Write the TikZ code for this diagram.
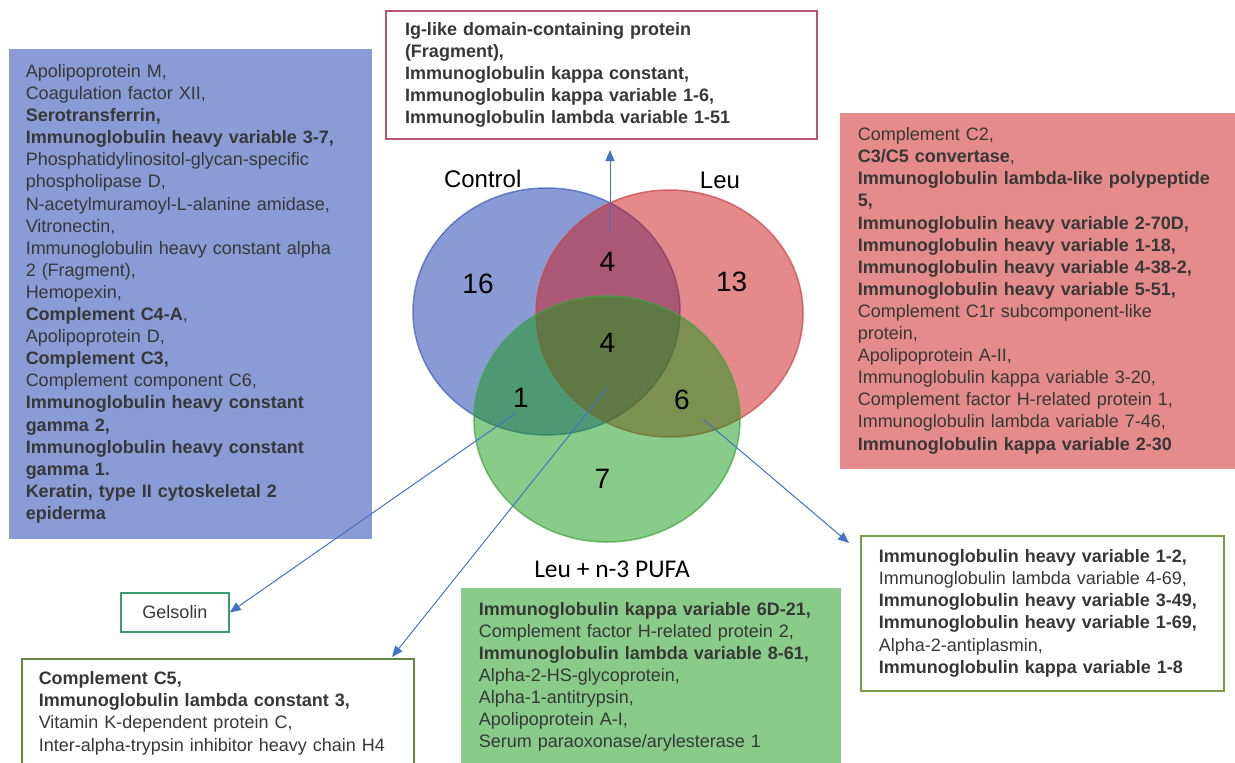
\documentclass[tikz,border=0pt]{standalone}
\usepackage{fontspec}
\setmainfont{Liberation Sans}[WordSpace={2.0}]
\newfontfamily\titlefont{Liberation Sans}
\newfontfamily\calfont{Carlito}
\usetikzlibrary{arrows.meta}
\newcommand\mline[1]{\mbox{#1}}
\definecolor{vblue}{RGB}{21,55,173}
\definecolor{vred}{RGB}{203,23,23}
\definecolor{vgreen}{RGB}{21,153,21}
\definecolor{sblue}{RGB}{60,95,190}
\definecolor{sred}{RGB}{205,65,65}
\definecolor{sgreen}{RGB}{60,165,60}
\definecolor{boxblue}{RGB}{138,155,214}
\definecolor{boxred}{RGB}{229,139,139}
\definecolor{boxgreen}{RGB}{137,204,137}
\definecolor{topborder}{RGB}{183,84,115}
\definecolor{gelborder}{RGB}{60,155,110}
\definecolor{c5border}{RGB}{100,135,70}
\definecolor{rtborder}{RGB}{120,155,70}
\definecolor{arrblue}{RGB}{68,114,196}
\definecolor{txt}{RGB}{55,55,55}
\tikzset{
  listbox/.style={anchor=north west, align=left, inner xsep=17pt, inner ysep=0pt,
    text=txt, font=\fontsize{18}{22.1}\selectfont, line width=1.5pt},
  arr/.style={draw=arrblue, line width=1pt, -{Triangle[length=11pt,width=9pt]}},
  num/.style={font=\titlefont\fontsize{28}{28}\selectfont, inner sep=0pt, text=black},
  ttl/.style={font=\titlefont\fontsize{24}{24}\selectfont, inner sep=0pt, text=black},
  venn/.style={fill opacity=0.5, draw opacity=0.7, line width=1.5pt}
}
\begin{document}
\begin{tikzpicture}[x=1pt,y=-1pt]
\clip (0,0) rectangle (1235,763);
\fill[white] (0,0) rectangle (1235,763);

% Venn circles
\path[venn, fill=vblue, draw=sblue] (546.5,311.5) ellipse [x radius=133.5, y radius=123.5];
\path[venn, fill=vred, draw=sred] (669.5,313.5) ellipse [x radius=133.5, y radius=123.5];
\path[venn, fill=vgreen, draw=sgreen] (607,419) ellipse [x radius=133, y radius=123];

% titles and numbers
\node[ttl] (tc) at (482.7,179) {Control};
\node[ttl] (tl) at (720,180) {Leu};
\node[inner sep=0pt, font=\calfont\fontsize{25.5}{25.5}\selectfont] (tp) at (612,569) {Leu + n-3 PUFA};
\node[num] (n16) at (478,284) {16};
\node[num] (n4a) at (607.5,262) {4};
\node[num] (n13) at (731.7,282) {13};
\node[num] (n4b) at (607.5,343) {4};
\node[num] (n1) at (521,398) {1};
\node[num] (n6) at (682,400) {6};
\node[num] (n7) at (602.5,478.5) {7};

% boxes
\node[listbox, fill=boxblue, text width=329pt, minimum height=490pt] (bluebox) at (8,48) {%
\mline{Apolipoprotein M,}\\
\mline{Coagulation factor XII,}\\
\mline{\textbf{Serotransferrin,}}\\
\mline{\textbf{Immunoglobulin heavy variable 3-7,}}\\
\mline{Phosphatidylinositol-glycan-specific}\\
\mline{phospholipase D,}\\
\mline{N-acetylmuramoyl-L-alanine amidase,}\\
\mline{Vitronectin,}\\
\mline{Immunoglobulin heavy constant alpha}\\
\mline{2 (Fragment),}\\
\mline{Hemopexin,}\\
\mline{\textbf{Complement C4-A},}\\
\mline{Apolipoprotein D,}\\
\mline{\textbf{Complement C3,}}\\
\mline{Complement component C6,}\\
\mline{\textbf{Immunoglobulin heavy constant}}\\
\mline{\textbf{gamma 2,}}\\
\mline{\textbf{Immunoglobulin heavy constant}}\\
\mline{\textbf{gamma 1.}}\\
\mline{\textbf{Keratin, type II cytoskeletal 2}}\\
\mline{\textbf{epiderma}}};

\node[listbox, draw=topborder, line width=2pt, fill=white, inner xsep=19pt, text width=393pt, minimum height=128pt] (topbox) at (385,10) {%
\mline{\textbf{Ig-like domain-containing protein}}\\
\mline{\textbf{(Fragment),}}\\
\mline{\textbf{Immunoglobulin kappa constant,}}\\
\mline{\textbf{Immunoglobulin kappa variable 1-6,}}\\
\mline{\textbf{Immunoglobulin lambda variable 1-51}}};

\node[listbox, fill=boxred, inner xsep=18pt, text width=372pt, minimum height=356pt] (redbox) at (839,112) {%
\mline{Complement C2,}\\
\mline{\textbf{C3/C5 convertase},}\\
\mline{\textbf{Immunoglobulin lambda-like polypeptide}}\\
\mline{\textbf{5,}}\\
\mline{\textbf{Immunoglobulin heavy variable 2-70D,}}\\
\mline{\textbf{Immunoglobulin heavy variable 1-18,}}\\
\mline{\textbf{Immunoglobulin heavy variable 4-38-2,}}\\
\mline{\textbf{Immunoglobulin heavy variable 5-51,}}\\
\mline{Complement C1r subcomponent-like}\\
\mline{protein,}\\
\mline{Apolipoprotein A-II,}\\
\mline{Immunoglobulin kappa variable 3-20,}\\
\mline{Complement factor H-related protein 1,}\\
\mline{Immunoglobulin lambda variable 7-46,}\\
\mline{\textbf{Immunoglobulin kappa variable 2-30}}};

\node[listbox, fill=boxgreen, inner xsep=18pt, text width=344pt, minimum height=178pt] (greenbox) at (460,587) {%
\mline{\textbf{Immunoglobulin kappa variable 6D-21,}}\\
\mline{Complement factor H-related protein 2,}\\
\mline{\textbf{Immunoglobulin lambda variable 8-61,}}\\
\mline{Alpha-2-HS-glycoprotein,}\\
\mline{Alpha-1-antitrypsin,}\\
\mline{Apolipoprotein A-I,}\\
\mline{Serum paraoxonase/arylesterase 1}};

\node[listbox, draw=rtborder, fill=white, inner xsep=18pt, text width=327pt, minimum height=155pt] (rtbox) at (860,535) {%
\mline{\textbf{Immunoglobulin heavy variable 1-2,}}\\
\mline{Immunoglobulin lambda variable 4-69,}\\
\mline{\textbf{Immunoglobulin heavy variable 3-49,}}\\
\mline{\textbf{Immunoglobulin heavy variable 1-69,}}\\
\mline{Alpha-2-antiplasmin,}\\
\mline{\textbf{Immunoglobulin kappa variable 1-8}}};

\node[listbox, draw=c5border, fill=white, text width=358pt, minimum height=109pt] (c5box) at (21,658) {%
\mline{\textbf{Complement C5,}}\\
\mline{\textbf{Immunoglobulin lambda constant 3,}}\\
\mline{Vitamin K-dependent protein C,}\\
\mline{Inter-alpha-trypsin inhibitor heavy chain H4}};

\node[draw=gelborder, line width=1.5pt, text=txt, font=\fontsize{18}{22}\selectfont,
  minimum width=108pt, minimum height=39pt, inner sep=0pt] (gels) at (175,612.5) {Gelsolin};

% connector anchors
\coordinate (s4) at (610,232);
\coordinate (t4) at (610,150);
\coordinate (s1) at (516,413);
\coordinate (sc) at (608,387);
\coordinate (tc5) at (392,657);
\coordinate (s6) at (703,419);
\coordinate (t6) at (849,543);

\draw[arr] (s4) -- (t4);
\draw[arr] (s1) -- (gels.east);
\draw[arr] (sc) -- (tc5);
\draw[arr] (s6) -- (t6);
\end{tikzpicture}
\end{document}
